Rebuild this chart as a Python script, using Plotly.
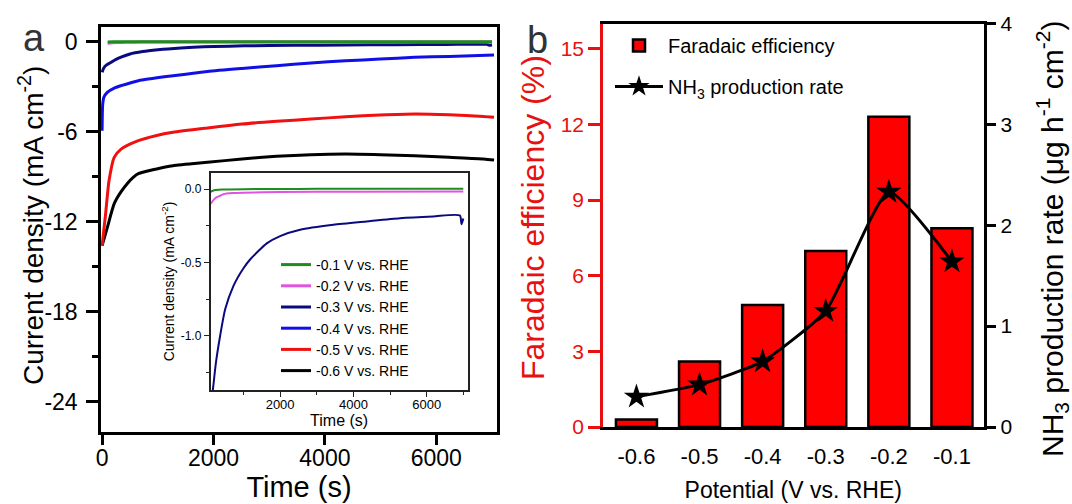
import plotly.graph_objects as go

W, H = 1072, 504

# ---------------- Panel a data: time (s) vs current density (mA cm-2) ----------------
t_p01 = [100, 200, 400, 1000, 2000, 3000, 5000, 7000]
j_p01 = [-0.018, -0.008, -0.003, 0.0, 0.001, 0.002, 0.003, 0.003]

t_p02 = [100, 180, 270, 360, 450, 700, 1000, 2000, 4000, 7000]
j_p02 = [-0.10, -0.075, -0.055, -0.045, -0.035, -0.027, -0.024, -0.020, -0.018, -0.017]

t_p03 = [0, 30, 80, 124, 164, 250, 363, 500, 727, 1000, 1181, 1636, 2000, 2545,
         3453, 4363, 5272, 6180, 6908, 6950, 7000]
j_p03 = [-2.04, -1.75, -1.55, -1.45, -1.37, -1.18, -1.0, -0.82, -0.66, -0.54, -0.48,
         -0.37, -0.32, -0.277, -0.243, -0.22, -0.198, -0.186, -0.18, -0.24, -0.20]

t_p04 = [0, 10, 31, 93, 217, 341, 651, 1271, 1891, 2511, 3131, 3751, 4371, 4991,
         5611, 6231, 7037]
j_p04 = [-5.93, -4.2, -3.71, -3.38, -3.09, -2.93, -2.60, -2.27, -1.98, -1.78, -1.60,
         -1.42, -1.27, -1.16, -1.04, -0.98, -0.89]

t_p05 = [0, 62, 124, 217, 341, 651, 961, 1271, 1891, 2511, 3131, 3751, 4371, 4991,
         5611, 6231, 6851, 7037]
j_p05 = [-13.6, -11.5, -9.27, -7.71, -7.16, -6.60, -6.27, -6.04, -5.75, -5.49, -5.31,
         -5.16, -5.00, -4.89, -4.82, -4.87, -4.98, -5.04]

t_p06 = [0, 93, 217, 341, 465, 558, 651, 961, 1271, 1891, 2511, 3131, 3751, 4371,
         4991, 5611, 6231, 6851, 7037]
j_p06 = [-13.6, -12.4, -10.8, -10.0, -9.4, -9.04, -8.8, -8.5, -8.27, -8.04, -7.82,
         -7.64, -7.53, -7.49, -7.53, -7.60, -7.71, -7.82, -7.89]

series_names = ["-0.1 V vs. RHE", "-0.2 V vs. RHE", "-0.3 V vs. RHE",
                "-0.4 V vs. RHE", "-0.5 V vs. RHE", "-0.6 V vs. RHE"]
series_colors = ["#1e8c1e", "#e055e0", "#0a0a80", "#1010e6", "#f01010", "#000000"]
series_t = [t_p01, t_p02, t_p03, t_p04, t_p05, t_p06]
series_j = [j_p01, j_p02, j_p03, j_p04, j_p05, j_p06]
inset_series = [0, 1, 2]

main_yticks = [0, -6, -12, -18, -24]
main_yticklabels = ["0", "-6", "-12", "-18", "-24"]
main_xticks = [0, 2000, 4000, 6000]
inset_yticks = [0.0, -0.5, -1.0]
inset_yticklabels = ["0.0", "-0.5", "-1.0"]
inset_xticks = [2000, 4000, 6000]

# ---------------- Panel b data ----------------
potential = ["-0.6", "-0.5", "-0.4", "-0.3", "-0.2", "-0.1"]
faradaic_eff = [0.30, 2.60, 4.84, 6.98, 12.3, 7.88]
nh3_rate = [0.30, 0.42, 0.65, 1.15, 2.33, 1.64]
fe_ticks = [0, 3, 6, 9, 12, 15]
rate_ticks = [0, 1, 2, 3, 4]

FONT = "Liberation Sans, Arial, sans-serif"
RED = "#e81010"


def px(x):
    return x / W


def py(y):
    return 1 - y / H


fig = go.Figure()

# main curves (drawn -0.6 first so -0.1 is on top)
for i in reversed(range(6)):
    fig.add_trace(go.Scatter(
        x=series_t[i], y=series_j[i], mode="lines", name=series_names[i],
        line=dict(color=series_colors[i], width=3, shape="spline", smoothing=0.6),
        xaxis="x", yaxis="y", legend="legend", showlegend=True))

# inset curves
for i in inset_series:
    fig.add_trace(go.Scatter(
        x=series_t[i], y=series_j[i], mode="lines", name=series_names[i],
        line=dict(color=series_colors[i], width=2, shape="spline", smoothing=0.6),
        xaxis="x2", yaxis="y2", showlegend=False))

# panel b
fig.add_trace(go.Bar(
    x=potential, y=faradaic_eff, name="Faradaic efficiency",
    marker=dict(color="#ff0000", line=dict(color="black", width=2.5)),
    width=0.65, xaxis="x3", yaxis="y3", legend="legend2", legendgroup="fe"))
fig.add_trace(go.Scatter(
    x=potential, y=nh3_rate, name="NH<sub>3</sub> production rate",
    mode="lines+markers",
    line=dict(color="black", width=3, shape="spline", smoothing=0.5),
    marker=dict(symbol="star", size=19, color="black"),
    xaxis="x3", yaxis="y4", legend="legend2", legendgroup="nh3"))

axis_common = dict(showgrid=False, zeroline=False, showline=True, linecolor="black",
                   linewidth=2.5, ticks="outside", tickcolor="black", tickwidth=2.5,
                   automargin=False)

fig.update_layout(
    width=W, height=H, margin=dict(l=0, r=0, t=0, b=0, pad=0, autoexpand=False),
    paper_bgcolor="white", plot_bgcolor="white",
    font=dict(family=FONT, color="black"),
    xaxis=dict(domain=[px(101), px(497)], range=[-20, 7090], anchor="y",
               tickvals=main_xticks, ticklen=11, mirror=True,
               tickfont=dict(size=23), ticklabelstandoff=-7,
               title=dict(text="Time (s)", font=dict(size=29), standoff=6),
               **axis_common),
    yaxis=dict(domain=[py(431.7), py(26.7)], range=[-26, 1], anchor="x",
               tickvals=main_yticks, ticktext=main_yticklabels, ticklen=12,
               mirror=True, tickfont=dict(size=23), ticklabelstandoff=4,
               minor=dict(dtick=3, ticklen=6, tickwidth=2.5, tickcolor="black",
                          ticks="outside"),
               **axis_common),
    xaxis2=dict(domain=[px(210.5), px(467.7)], range=[100, 7120], anchor="y2",
                tickvals=inset_xticks, showline=True, mirror=True, linecolor="#222",
                linewidth=1.5, ticks="outside", ticklen=5, tickwidth=1.2,
                tickcolor="#222", showgrid=False, zeroline=False, automargin=False,
                tickfont=dict(size=13), ticklabelstandoff=-3,
                minor=dict(tickvals=[1000, 3000, 5000, 7000], ticklen=3,
                           ticks="outside", tickcolor="#222", tickwidth=1.2),
                title=dict(text="Time (s)", font=dict(size=16), standoff=0)),
    yaxis2=dict(domain=[py(390), py(173)], range=[-1.37, 0.11], anchor="x2",
                tickvals=inset_yticks, ticktext=inset_yticklabels,
                showline=True, mirror=True, linecolor="#222",
                linewidth=1.5, ticks="outside", ticklen=5, tickwidth=1.2,
                tickcolor="#222", showgrid=False, zeroline=False, automargin=False,
                tickfont=dict(size=12),
                minor=dict(tickvals=[-0.25, -0.75, -1.25], ticklen=3,
                           ticks="outside", tickcolor="#222", tickwidth=1.2),
                title=dict(text="Current density (mA cm<sup>-2</sup>)",
                           font=dict(size=14), standoff=3)),
    xaxis3=dict(domain=[px(603), px(983.5)], type="category", range=[-0.53, 5.5],
                anchor="y3", showgrid=False, zeroline=False, showline=True,
                mirror=True, linecolor="black", linewidth=2.5, ticks="",
                automargin=False,
                ticklabelstandoff=8, tickfont=dict(size=22),
                title=dict(text="Potential (V vs. RHE)", font=dict(size=23),
                           standoff=14)),
    yaxis3=dict(domain=[py(427), py(23.5)], range=[0, 16], anchor="x3",
                tickvals=fe_ticks, showgrid=False, zeroline=False, showline=True,
                linecolor=RED, linewidth=2.5, ticks="outside", ticklen=12,
                tickwidth=2.5, tickcolor=RED, automargin=False,
                tickfont=dict(size=21, color=RED)),
    yaxis4=dict(domain=[py(427), py(23.5)], range=[0, 4], overlaying="y3",
                side="right", anchor="x3", tickvals=rate_ticks,
                showgrid=False, zeroline=False, showline=True, linecolor="black",
                linewidth=2.5, ticks="outside", ticklen=10, tickwidth=2.5,
                tickcolor="black", tickfont=dict(size=21), automargin=False),
    legend=dict(x=px(276), y=py(249), xanchor="left", yanchor="top",
                traceorder="reversed", bgcolor="rgba(0,0,0,0)",
                font=dict(size=14), tracegroupgap=0, itemwidth=30),
    legend2=dict(x=px(610), y=py(26), xanchor="left", yanchor="top",
                 traceorder="grouped", bgcolor="rgba(0,0,0,0)",
                 font=dict(size=20), tracegroupgap=12, itemwidth=48),
    showlegend=True,
    annotations=[
        dict(text="a", x=px(34), y=py(38), xref="paper", yref="paper",
             xanchor="center", yanchor="middle",
             showarrow=False, font=dict(size=38, color="#333")),
        dict(text="b", x=px(537), y=py(40), xref="paper", yref="paper",
             xanchor="center", yanchor="middle",
             showarrow=False, font=dict(size=38, color="#333")),
        dict(text="Current density (mA cm<sup>-2</sup>)", textangle=-90,
             x=px(31), y=py(226), xref="paper", yref="paper", showarrow=False,
             xanchor="center", yanchor="middle", font=dict(size=28)),
        dict(text="Faradaic efficiency (%)", textangle=-90,
             x=px(533), y=py(218), xref="paper", yref="paper", showarrow=False,
             xanchor="center", yanchor="middle", font=dict(size=32, color=RED)),
        dict(text="NH<sub>3</sub> production rate (μg h<sup>-1</sup> cm<sup>-2</sup>)",
             textangle=-90, x=px(1052), y=py(239), xref="paper", yref="paper",
             showarrow=False, xanchor="center", yanchor="middle",
             font=dict(size=30)),
    ],
)

fig.write_html("out.html", config={"displayModeBar": False},
               post_script="document.body.style.margin='0px';")
